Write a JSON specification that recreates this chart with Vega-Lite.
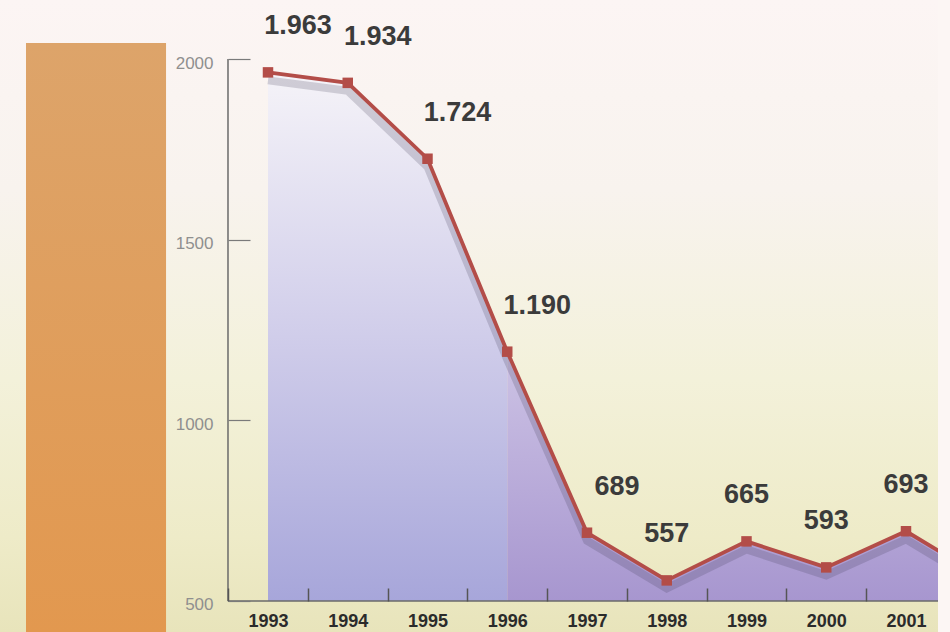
{
  "$schema": "https://vega.github.io/schema/vega-lite/v6.json",
  "width": 938,
  "height": 632,
  "autosize": "none",
  "padding": {"left": 0, "top": 0, "right": 12, "bottom": 0},
  "background": "#fcf6f4",
  "config": {
    "view": {"stroke": null},
    "locale": {"number": {"decimal": ",", "thousands": ".", "grouping": [3], "currency": ["", " €"]}}
  },
  "datasets": {
    "main": [
      {"year": 1993, "value": 1963},
      {"year": 1994, "value": 1934},
      {"year": 1995, "value": 1724},
      {"year": 1996, "value": 1190},
      {"year": 1997, "value": 689},
      {"year": 1998, "value": 557},
      {"year": 1999, "value": 665},
      {"year": 2000, "value": 593},
      {"year": 2001, "value": 693},
      {"year": 2002, "value": 560}
    ],
    "one": [{}]
  },
  "layer": [
    {
      "data": {"name": "one"},
      "mark": {"type": "rect", "fill": {"gradient": "linear", "x1": 0, "y1": 0, "x2": 0, "y2": 1, "stops": [
        {"offset": 0, "color": "#fcf5f4"},
        {"offset": 0.3, "color": "#f8f3ee"},
        {"offset": 0.6, "color": "#f3f1da"},
        {"offset": 0.85, "color": "#eeebc8"},
        {"offset": 1, "color": "#e8e4bb"}
      ]}},
      "encoding": {
        "x": {"datum": 1989.6395, "type": "quantitative",
          "scale": {"domain": [1989.6395, 2001.4013], "nice": false, "zero": false},
          "axis": {"title": null, "values": [1993, 1994, 1995, 1996, 1997, 1998, 1999, 2000, 2001], "format": "d",
            "domain": false, "grid": false, "offset": -31, "tickOffset": -39.875, "labelOffset": 39.875,
            "tickSize": -13, "tickColor": "#555555", "tickWidth": 1.5, "labelPadding": 24,
            "labelFont": "Liberation Sans", "labelFontWeight": "bold", "labelFontSize": 18, "labelColor": "#2b2b2b",
            "labelFlush": false, "labelOverlap": false, "labelBound": false, "zindex": 1}},
        "x2": {"datum": 2001.4013},
        "y": {"datum": 2163.3, "type": "quantitative",
          "scale": {"domain": [414.2, 2163.3], "nice": false, "zero": false},
          "axis": {"title": null, "values": [500, 1000, 1500, 2000], "format": "d",
            "domain": false, "grid": false, "offset": -228, "tickSize": -22, "tickColor": "#7a7a7a", "tickWidth": 1.2,
            "labelPadding": 37, "labelOffset": 4, "labelFont": "Liberation Sans", "labelFontSize": 17, "labelColor": "#8f8f8f",
            "labelFlush": false, "labelOverlap": false, "zindex": 1}},
        "y2": {"datum": 414.2}
      }
    },
    {
      "data": {"name": "one"},
      "mark": {"type": "rect", "fill": {"gradient": "linear", "x1": 0, "y1": 0, "x2": 0, "y2": 1, "stops": [
        {"offset": 0, "color": "#dda46a"},
        {"offset": 1, "color": "#e2984f"}
      ]}},
      "encoding": {
        "x": {"datum": 1989.9655, "type": "quantitative", "title": null},
        "x2": {"datum": 1991.7216},
        "y": {"datum": 2044.3, "type": "quantitative", "title": null},
        "y2": {"datum": 414.2}
      }
    },
    {
      "data": {"name": "one"},
      "mark": {"type": "rule", "color": "#6a6a6a", "strokeWidth": 1.5},
      "encoding": {
        "x": {"datum": 1992.4984, "type": "quantitative", "title": null},
        "y": {"datum": 2000, "type": "quantitative", "title": null},
        "y2": {"datum": 500}
      }
    },
    {
      "data": {"name": "main"},
      "transform": [{"filter": "datum.year <= 1996"}],
      "mark": {"type": "area", "clip": true, "fill": {"gradient": "linear", "x1": 0, "y1": 0, "x2": 0, "y2": 1, "stops": [
        {"offset": 0, "color": "#f5f3f8"},
        {"offset": 0.5, "color": "#d0cdea"},
        {"offset": 1, "color": "#a7a6da"}
      ]}},
      "encoding": {
        "x": {"field": "year", "type": "quantitative", "title": null},
        "y": {"field": "value", "type": "quantitative", "title": null},
        "y2": {"datum": 500}
      }
    },
    {
      "data": {"name": "main"},
      "transform": [{"filter": "datum.year >= 1996"}],
      "mark": {"type": "area", "clip": true, "fill": {"gradient": "linear", "x1": 0, "y1": 0, "x2": 0, "y2": 1, "stops": [
        {"offset": 0, "color": "#cdc3e5"},
        {"offset": 1, "color": "#a796cf"}
      ]}},
      "encoding": {
        "x": {"field": "year", "type": "quantitative", "title": null},
        "y": {"field": "value", "type": "quantitative", "title": null},
        "y2": {"datum": 500}
      }
    },
    {
      "data": {"name": "one"},
      "mark": {"type": "rule", "color": "#6a6a6a", "strokeWidth": 1.5},
      "encoding": {
        "x": {"datum": 1992.4984, "type": "quantitative", "title": null},
        "x2": {"datum": 2001.4013},
        "y": {"datum": 500, "type": "quantitative", "title": null}
      }
    },
    {
      "data": {"name": "main"},
      "mark": {"type": "line", "clip": true, "color": "#3d3550", "opacity": 0.2, "strokeWidth": 8, "yOffset": 8},
      "encoding": {
        "x": {"field": "year", "type": "quantitative", "title": null},
        "y": {"field": "value", "type": "quantitative", "title": null}
      }
    },
    {
      "data": {"name": "main"},
      "mark": {"type": "line", "clip": true, "color": "#b34d48", "strokeWidth": 3.8},
      "encoding": {
        "x": {"field": "year", "type": "quantitative", "title": null},
        "y": {"field": "value", "type": "quantitative", "title": null}
      }
    },
    {
      "data": {"name": "main"},
      "mark": {"type": "square", "clip": true, "color": "#b34d48", "opacity": 1, "size": 110},
      "encoding": {
        "x": {"field": "year", "type": "quantitative", "title": null},
        "y": {"field": "value", "type": "quantitative", "title": null}
      }
    },
    {
      "data": {"name": "main"},
      "transform": [{"filter": "datum.year <= 1997"}],
      "mark": {"type": "text", "dx": 30, "dy": -46, "font": "Liberation Sans", "fontWeight": "bold", "fontSize": 27, "color": "#3b3b3b", "baseline": "middle"},
      "encoding": {
        "x": {"field": "year", "type": "quantitative", "title": null},
        "y": {"field": "value", "type": "quantitative", "title": null},
        "text": {"field": "value", "type": "quantitative", "format": ",d"}
      }
    },
    {
      "data": {"name": "main"},
      "transform": [{"filter": "datum.year >= 1998 && datum.year <= 2001"}],
      "mark": {"type": "text", "dx": 0, "dy": -46, "font": "Liberation Sans", "fontWeight": "bold", "fontSize": 27, "color": "#3b3b3b", "baseline": "middle"},
      "encoding": {
        "x": {"field": "year", "type": "quantitative", "title": null},
        "y": {"field": "value", "type": "quantitative", "title": null},
        "text": {"field": "value", "type": "quantitative", "format": ",d"}
      }
    }
  ]
}
